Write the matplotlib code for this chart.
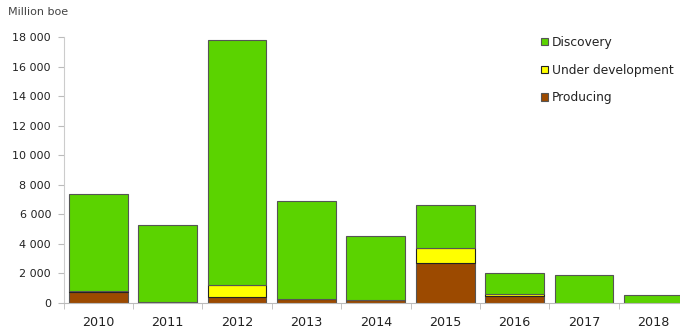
import matplotlib.pyplot as plt
import numpy as np

years = ["2010", "2011", "2012", "2013", "2014", "2015", "2016", "2017", "2018"]
producing = [750, 100, 400, 250, 230, 2700, 500, 0, 0]
under_development = [40, 0, 820, 0, 0, 1020, 100, 0, 0]
discovery = [6585, 5180, 16580, 6650, 4300, 2910, 1430, 1900, 560]

GREEN = "#5bd300"
YELLOW = "#ffff00"
BROWN = "#9c4a00"
EDGE = "#555555"

fig = plt.figure(figsize=(6.8, 3.35), dpi=100)
# axes runs a little past the right edge, like the original
ax = fig.add_axes([63.5 / 680, 32 / 335, 624.6 / 680, 266 / 335])

x = np.arange(len(years))
w = 0.85
p = np.array(producing)
u = np.array(under_development)
d = np.array(discovery)

ax.bar(x, p, w, color=BROWN, edgecolor=EDGE, linewidth=0.8, label="Producing")
ax.bar(x, u, w, bottom=p, color=YELLOW, edgecolor="#222222", linewidth=0.8, label="Under development")
ax.bar(x, d, w, bottom=p + u, color=GREEN, edgecolor=EDGE, linewidth=0.8, label="Discovery")

ax.set_xlim(-0.5, len(years) - 0.5)
ax.set_ylim(0, 18000)
ax.set_yticks(range(0, 18001, 2000))
ax.set_yticklabels([f"{v:,}".replace(",", " ") for v in range(0, 18001, 2000)],
                   fontsize=8, color="#222222")
ax.set_xticks(x)
ax.set_xticklabels(years, fontsize=9.2, color="#222222")
ax.set_xticks(np.arange(-0.5, len(years)), minor=True)
ax.tick_params(axis="x", which="major", length=0, pad=9)
ax.tick_params(axis="x", which="minor", length=4, color="#bbbbbb")
ax.tick_params(axis="y", length=4, color="#bbbbbb", pad=5)

for s in ["top", "right"]:
    ax.spines[s].set_visible(False)
ax.spines["left"].set_color("#cccccc")
ax.spines["bottom"].set_color("#bbbbbb")

fig.text(8 / 680, 1 - 12 / 335, "Million boe", fontsize=8, color="#444444", va="center")

h, l = ax.get_legend_handles_labels()
leg = fig.legend(h[::-1], l[::-1], loc="upper left", bbox_to_anchor=(536 / 680, 1 - 31 / 335),
                 frameon=False, fontsize=8.8, handlelength=0.55, handleheight=0.55,
                 handletextpad=0.35, labelspacing=1.2, borderaxespad=0)
for t in leg.get_texts():
    t.set_color("#222222")

fig.savefig("out.png", dpi=100)
